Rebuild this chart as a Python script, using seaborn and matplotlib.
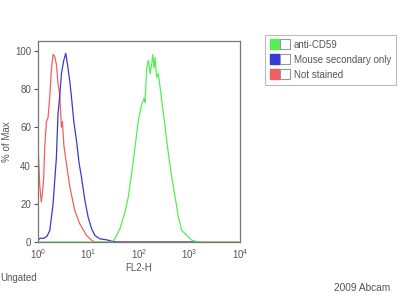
import matplotlib
matplotlib.use("Agg")
import matplotlib.pyplot as plt
import seaborn as sns
import pandas as pd
from matplotlib.lines import Line2D
from matplotlib.legend_handler import HandlerTuple
from matplotlib.ticker import LogLocator, NullFormatter

series_names = ["anti-CD59", "Mouse secondary only", "Not stained"]

red_x = [1.0, 1.01, 1.08, 1.16, 1.22, 1.30, 1.36, 1.47, 1.58, 1.71, 1.84, 1.99, 2.14, 2.31,
         2.49, 2.69, 2.91, 3.04, 3.24, 3.66, 4.26, 5.35, 6.73, 9.12, 11.5, 13.4, 10000]
red_y = [0, 48, 30, 21, 25, 34, 50, 63, 65, 76, 90, 98, 97, 93,
         83, 77, 60, 63, 51, 41, 29, 16.5, 9.5, 3.5, 1, 0, 0]

blue_x = [1.0, 1.1, 1.3, 1.5, 1.71, 1.99, 2.31, 2.49, 2.69, 2.91, 3.24, 3.55, 3.83, 4.26,
          4.59, 5.12, 5.78, 6.53, 7.26, 8.45, 9.84, 11.5, 13.4, 16.8, 22.8, 28.6, 36.0, 1600]
blue_y = [1, 2, 2, 3, 6, 20, 44, 67, 76, 88, 95, 98.6, 93, 84,
          76, 63, 53, 41, 34, 22, 13, 7, 3.5, 1.7, 1.2, 0.5, 0, 0]

green_x = [1.0, 28.6, 33.3, 42.0, 52.7, 61.4, 71.4, 83.4, 97.0, 113, 126, 132, 142, 153,
           166, 179, 187, 199, 208, 224, 242, 261, 282, 329, 383, 446, 519, 604, 705,
           885, 1112, 1400, 1630, 10000]
green_y = [0, 0, 1.7, 7, 15.7, 23.5, 35.7, 49.6, 63.5, 72, 75, 73, 91, 95,
           88, 93, 98, 91, 96.5, 86, 88, 81, 74, 60, 46, 34, 23.5, 13, 6,
           3.5, 1, 0.3, 0, 0]

y_ticks = [0, 20, 40, 60, 80, 100]

colors = {"anti-CD59": "#55ee55", "Mouse secondary only": "#3a3ad0", "Not stained": "#f06060"}

df = pd.concat([
    pd.DataFrame({"FL2-H": red_x, "pct": red_y, "series": "Not stained"}),
    pd.DataFrame({"FL2-H": blue_x, "pct": blue_y, "series": "Mouse secondary only"}),
    pd.DataFrame({"FL2-H": green_x, "pct": green_y, "series": "anti-CD59"}),
], ignore_index=True)

sns.set_style("white")
plt.rcParams["font.family"] = ["Liberation Sans", "DejaVu Sans"]
fig = plt.figure(figsize=(4, 3), dpi=100)
ax = fig.add_axes([0.095, 0.193, 0.505, 0.67])

sns.lineplot(data=df, x="FL2-H", y="pct", hue="series", palette=colors,
             hue_order=["Not stained", "Mouse secondary only", "anti-CD59"],
             sort=False, estimator=None, linewidth=0.9, ax=ax, legend=False)

ax.set_xscale("log")
ax.set_xlim(1, 10000)
ax.set_ylim(0, 105)
ax.set_yticks(y_ticks)
tc = "#555555"
ax.xaxis.set_major_locator(LogLocator(base=10, numticks=10))
ax.xaxis.set_minor_locator(LogLocator(base=10, subs=range(2, 10), numticks=50))
ax.xaxis.set_minor_formatter(NullFormatter())
ax.tick_params(axis="x", which="major", direction="in", length=4, width=0.8, color=tc,
               labelsize=7, labelcolor=tc, pad=4)
ax.tick_params(axis="x", which="minor", direction="in", length=2.5, width=0.6, color=tc)
ax.tick_params(axis="y", which="major", direction="out", length=3, width=0.8, color=tc,
               labelsize=7, labelcolor=tc, pad=2, left=True)
for s in ax.spines.values():
    s.set_color("#777777")
    s.set_linewidth(0.9)
ax.set_xlabel("FL2-H", fontsize=7, color=tc, labelpad=1)
ax.set_ylabel("% of Max", fontsize=7, color=tc, labelpad=2)

fig.text(0.0, 0.073, "Ungated", fontsize=7, color=tc, ha="left", va="center")
fig.text(0.975, 0.04, "2009 Abcam", fontsize=7.3, color=tc, ha="right", va="center")

handles = []
for name in series_names:
    h1 = Line2D([], [], marker="s", markersize=7, color=colors[name], markerfacecolor=colors[name],
                markeredgecolor=colors[name], linestyle="none")
    h2 = Line2D([], [], marker="s", markersize=7, markerfacecolor="white",
                markeredgecolor="#999999", markeredgewidth=0.8, linestyle="none")
    handles.append((h1, h2))
leg = fig.legend(handles, series_names, loc="upper left", bbox_to_anchor=(0.663, 0.885),
                 handler_map={tuple: HandlerTuple(ndivide=None, pad=0.05)},
                 fontsize=7, frameon=True, fancybox=False, edgecolor="#aaaaaa",
                 handlelength=2.0, handletextpad=0.4, borderpad=0.55, labelspacing=0.5,
                 borderaxespad=0)
for t in leg.get_texts():
    t.set_color(tc)
leg.get_frame().set_linewidth(0.8)

fig.savefig("out.png", dpi=100)
